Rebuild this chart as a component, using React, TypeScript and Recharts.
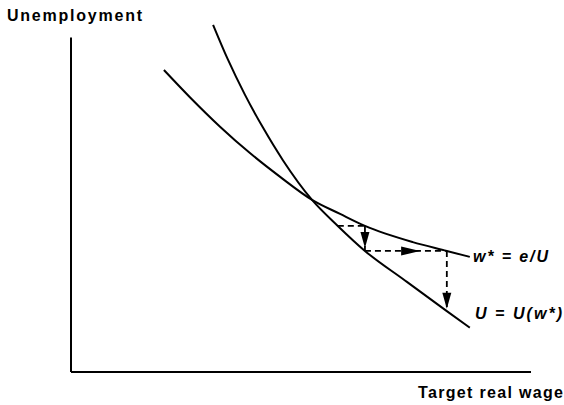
import React from 'react';
import {
  ComposedChart,
  Line,
  Scatter,
  XAxis,
  YAxis,
  ReferenceLine,
} from 'recharts';

// U = U(w*) : steep curve (target real wage, unemployment)
const STEEP_WAGE = [30.9, 34.1, 37.8, 41.7, 46.1, 52.4, 58.0, 63.9, 72.6, 81.7, 86.7];
const STEEP_UNEMP = [98.6, 88.8, 78.8, 69.5, 60.1, 48.9, 41.5, 34.4, 26.0, 17.3, 12.6];

// w* = e/U : flatter curve
const FLAT_WAGE = [20.2, 25.9, 32.4, 38.9, 45.4, 52.4, 58.5, 63.9, 74.3, 81.7, 86.7];
const FLAT_UNEMP = [85.8, 78.0, 69.7, 62.2, 55.5, 48.9, 44.9, 41.5, 36.9, 34.4, 32.7];

// dashed adjustment path, one entry per segment: [x1, y1, x2, y2]
const STEPS = [
  [58.0, 41.5, 63.9, 41.5],
  [63.9, 41.5, 63.9, 34.4],
  [63.9, 34.4, 81.7, 34.4],
  [81.7, 34.4, 81.7, 17.3],
];

// arrowhead tips along the path
const ARROW_X = [63.9, 75.9, 81.7];
const ARROW_Y = [35.2, 34.4, 18.0];
const ARROW_DIR = ['down', 'right', 'down'];

const zip = (xs: number[], ys: number[]) => xs.map((x, i) => ({ x, y: ys[i] }));

const steep = zip(STEEP_WAGE, STEEP_UNEMP);
const flat = zip(FLAT_WAGE, FLAT_UNEMP);
const steps = STEPS.map(([x1, y1, x2, y2]) => [
  { x: x1, y: y1 },
  { x: x2, y: y2 },
]);
const arrows = ARROW_X.map((x, i) => ({ x, y: ARROW_Y[i], dir: ARROW_DIR[i] }));

function ArrowHead(props: any) {
  const { cx, cy, payload } = props;
  if (cx == null || cy == null) return null;
  const pts =
    payload.dir === 'right'
      ? `${cx},${cy} ${cx - 19},${cy - 4.5} ${cx - 19},${cy + 4.5}`
      : `${cx},${cy} ${cx - 4.5},${cy - 16} ${cx + 4.5},${cy - 16}`;
  return <polygon points={pts} fill="#000" />;
}

const FONT = '"Liberation Sans", Arial, Helvetica, sans-serif';

export default function App() {
  return (
    <div style={{ position: 'absolute', left: 0, top: 0, width: 564, height: 405, background: '#fff' }}>
      <ComposedChart
        width={564}
        height={405}
        margin={{ top: 20, right: 33, bottom: 33, left: 71 }}
      >
        <XAxis type="number" dataKey="x" domain={[0, 100]} hide />
        <YAxis type="number" dataKey="y" domain={[0, 100]} hide />
        {/* axes drawn as segments so the vertical one can stop short of the plot top */}
        <ReferenceLine y={0} stroke="#000" strokeWidth={2} />
        <ReferenceLine
          segment={[{ x: 0, y: 0 }, { x: 0, y: 95 }]}
          stroke="#000"
          strokeWidth={2}
        />
        <Line
          data={steep}
          dataKey="y"
          type="monotone"
          stroke="#000"
          strokeWidth={2}
          dot={false}
          isAnimationActive={false}
        />
        <Line
          data={flat}
          dataKey="y"
          type="monotone"
          stroke="#000"
          strokeWidth={2}
          dot={false}
          isAnimationActive={false}
        />
        {steps.map((seg, i) => (
          <Line
            key={`step-${i}`}
            data={seg}
            dataKey="y"
            type="linear"
            stroke="#000"
            strokeWidth={1.8}
            strokeDasharray="6 4"
            dot={false}
            isAnimationActive={false}
          />
        ))}
        <Scatter
          data={arrows}
          dataKey="y"
          shape={(p: any) => <ArrowHead {...p} />}
          isAnimationActive={false}
        />
      </ComposedChart>
      <svg
        width={564}
        height={405}
        style={{ position: 'absolute', left: 0, top: 0, pointerEvents: 'none' }}
        fontFamily={FONT}
      >
        <text x={7} y={21} fontSize={16} fontWeight="bold" textLength={135} lengthAdjust="spacing">
          Unemployment
        </text>
        <text x={418} y={398} fontSize={16} fontWeight="bold" textLength={145} lengthAdjust="spacing">
          Target real wage
        </text>
        <text x={473} y={262} fontSize={16} fontWeight="bold" fontStyle="italic" textLength={75} lengthAdjust="spacing">
          w* = e/U
        </text>
        <text x={475} y={319} fontSize={16} fontWeight="bold" fontStyle="italic" textLength={87} lengthAdjust="spacing">
          U = U(w*)
        </text>
      </svg>
    </div>
  );
}
